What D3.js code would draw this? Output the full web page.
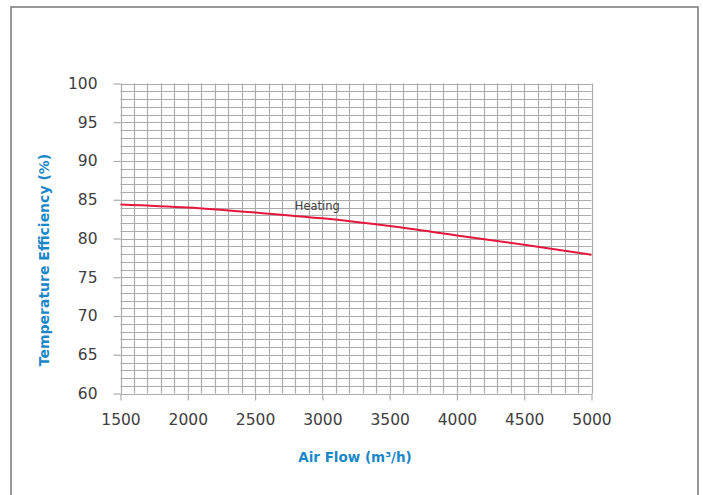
<!DOCTYPE html>
<html>
<head>
    <script src="https://cdn.jsdelivr.net/npm/d3@7"></script>
    <style>
        body { margin: 0; background: #fff; }
    </style>
</head>
<body>
<div id="chart"></div>

<script>

    var airFlow = [1500, 2000, 2500, 3000, 3500, 4000, 4500, 5000];
    var heating = [84.4, 84.0, 83.35, 82.6, 81.6, 80.4, 79.2, 77.9];
    var xTicks = [1500, 2000, 2500, 3000, 3500, 4000, 4500, 5000];
    var yTicks = [60, 65, 70, 75, 80, 85, 90, 95, 100];
    var seriesName = 'Heating';

    var width = 703;
    var height = 495;

    var svg = d3.select('#chart').append('svg')
        .attr('width', width)
        .attr('height', height);

    // outer frame (bottom runs off the picture)
    svg.append('rect')
        .attr('x', 11)
        .attr('y', 7)
        .attr('width', 687)
        .attr('height', 520)
        .attr('fill', 'none')
        .attr('stroke', '#7f7f7f')
        .attr('stroke-width', 1.6);

    var x = d3.scaleLinear()
        .domain([1500, 5000])
        .range([120.5, 591.5]);

    var y = d3.scaleLinear()
        .domain([60, 100])
        .range([393.5, 83.5]);

    var grid = svg.append('g').attr('class', 'grid');

    grid.selectAll('line.v')
        .data(d3.range(1500, 5001, 100))
        .enter()
        .append('line')
        .attr('class', 'v')
        .attr('x1', function(d) { return Math.round(x(d)) + 0.5; })
        .attr('x2', function(d) { return Math.round(x(d)) + 0.5; })
        .attr('y1', y(100))
        .attr('y2', y(60))
        .attr('stroke', '#ababab')
        .attr('stroke-width', 1.2);

    grid.selectAll('line.h')
        .data(d3.range(60, 101, 1))
        .enter()
        .append('line')
        .attr('class', 'h')
        .attr('y1', function(d) { return Math.round(y(d)) + 0.5; })
        .attr('y2', function(d) { return Math.round(y(d)) + 0.5; })
        .attr('x1', x(1500))
        .attr('x2', x(5000))
        .attr('stroke', '#ababab')
        .attr('stroke-width', 1.2);

    var yAxis = svg.append('g')
        .attr('transform', 'translate(' + x(1500) + ',0)')
        .call(d3.axisLeft(y).tickValues(yTicks).tickSize(7).tickPadding(16));

    var xAxis = svg.append('g')
        .attr('transform', 'translate(0,' + y(60) + ')')
        .call(d3.axisBottom(x).tickValues(xTicks).tickSize(7).tickPadding(13).tickFormat(d3.format('d')));

    [yAxis, xAxis].forEach(function(ax) {
        ax.select('.domain').remove();
        ax.selectAll('.tick line').attr('stroke', '#ababab').attr('stroke-width', 1.2);
        ax.selectAll('.tick text')
            .attr('fill', '#404040')
            .attr('font-family', 'DejaVu Sans')
            .attr('font-size', 15.5);
    });

    var line = d3.line()
        .curve(d3.curveMonotoneX)
        .x(function(d, i) { return x(airFlow[i]); })
        .y(function(d) { return y(d); });

    svg.append('path')
        .datum(heating)
        .attr('d', line)
        .attr('fill', 'none')
        .attr('stroke', '#e5173f')
        .attr('stroke-width', 2);

    svg.append('text')
        .attr('x', x(2795))
        .attr('y', y(83.65))
        .attr('font-family', 'DejaVu Sans')
        .attr('font-size', 11.5)
        .attr('fill', '#404040')
        .text(seriesName);

    svg.append('text')
        .attr('x', 355)
        .attr('y', 462)
        .attr('text-anchor', 'middle')
        .attr('font-family', 'DejaVu Sans')
        .attr('font-weight', 'bold')
        .attr('font-size', 13.5)
        .attr('fill', '#1a87c9')
        .text('Air Flow (m³/h)');

    svg.append('text')
        .attr('transform', 'translate(49,260) rotate(-90)')
        .attr('text-anchor', 'middle')
        .attr('font-family', 'DejaVu Sans')
        .attr('font-weight', 'bold')
        .attr('font-size', 14)
        .attr('fill', '#1a87c9')
        .text('Temperature Efficiency (%)');

</script>
</body>
</html>
